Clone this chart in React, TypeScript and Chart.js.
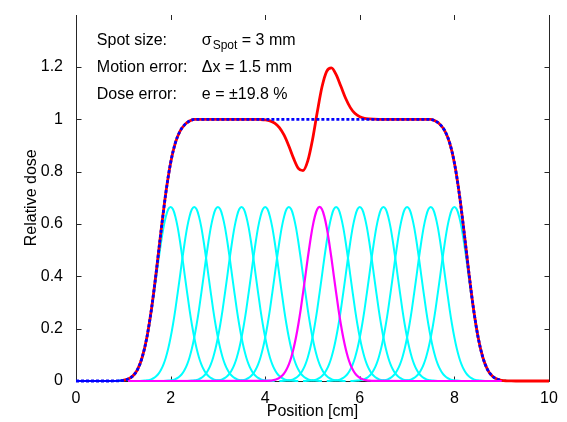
import React, { useEffect, useRef } from 'react';
import { Chart, registerables } from 'chart.js';

Chart.register(...registerables);

// Sample positions along the profile (cm)
const positionsCm = [
  0.0, 0.1, 0.2, 0.3, 0.4, 0.5, 0.6, 0.7, 0.8, 0.9,
  1.0, 1.1, 1.2, 1.3, 1.4, 1.5, 1.6, 1.7, 1.8, 1.9,
  2.0, 2.1, 2.2, 2.3, 2.4, 2.5, 2.6, 2.7, 2.8, 2.9,
  3.0, 3.1, 3.2, 3.3, 3.4, 3.5, 3.6, 3.7, 3.8, 3.9,
  4.0, 4.1, 4.2, 4.3, 4.4, 4.5, 4.6, 4.7, 4.8, 4.9,
  5.0, 5.1, 5.2, 5.3, 5.4, 5.5, 5.6, 5.7, 5.8, 5.9,
  6.0, 6.1, 6.2, 6.3, 6.4, 6.5, 6.6, 6.7, 6.8, 6.9,
  7.0, 7.1, 7.2, 7.3, 7.4, 7.5, 7.6, 7.7, 7.8, 7.9,
  8.0, 8.1, 8.2, 8.3, 8.4, 8.5, 8.6, 8.7, 8.8, 8.9,
  9.0, 9.1, 9.2, 9.3, 9.4, 9.5, 9.6, 9.7, 9.8, 9.9,
  10.0,
];

// Planned total dose (blue dotted)
const plannedDose = [
  0, 0, 0, 0, 0, 0, 0, 0, 0.0002, 0.0008,
  0.0026, 0.0074, 0.0191, 0.0439, 0.0908, 0.1684, 0.2808, 0.4224, 0.5764, 0.7199,
  0.8334, 0.9099, 0.9549, 0.9797, 0.9932, 0.9993, 0.9998, 1, 1, 1,
  1, 1, 1, 1, 1, 1, 1, 1, 1, 1,
  1, 1, 1, 1, 1, 1, 1, 1, 1, 1,
  1, 1, 1, 1, 1, 1, 1, 1, 1, 1,
  1, 1, 1, 1, 1, 1, 1, 1, 1, 1,
  1, 1, 1, 1, 0.9998, 0.9993, 0.9932, 0.9797, 0.9549, 0.9099,
  0.8334, 0.7199, 0.5764, 0.4224, 0.2808, 0.1684, 0.0908, 0.0439, 0.0191, 0.0074,
  0.0026, null, null, null, null, null, null, null, null, null,
  null,
];

// Delivered total dose with the motion error (red)
const deliveredDose = [
  null, null, null, null, null, null, null, null, null, null,
  0.0026, 0.0074, 0.0191, 0.0439, 0.0908, 0.1684, 0.2808, 0.4224, 0.5764, 0.7199,
  0.8334, 0.9099, 0.9549, 0.9797, 0.9932, 0.9993, 0.9998, 1, 1, 1,
  1, 1, 1, 1, 1, 1, 1, 1, 0.9998, 0.9993,
  0.9978, 0.9941, 0.9854, 0.9683, 0.9392, 0.8977, 0.8505, 0.8126, 0.8042, 0.8408,
  0.9219, 1.0267, 1.1234, 1.1835, 1.1965, 1.1708, 1.126, 1.0802, 1.0446, 1.0218,
  1.0094, 1.0036, 1.0013, 1.0004, 1, 1, 1, 1, 1, 1,
  1, 1, 1, 1, 0.9998, 0.9993, 0.9932, 0.9797, 0.9549, 0.9099,
  0.8334, 0.7199, 0.5764, 0.4224, 0.2808, 0.1684, 0.0908, 0.0439, 0.0191, 0.0074,
  0.0026, 0.0008, 0.0002, 0, 0, 0, 0, 0, 0, 0,
  0,
];

// Single spot dose profile, offset from its centre (cm)
const spotOffsetsCm = [
  -1.2, -1.15, -1.1, -1.05, -1.0, -0.95, -0.9, -0.85, -0.8, -0.75,
  -0.7, -0.65, -0.6, -0.55, -0.5, -0.45, -0.4, -0.35, -0.3, -0.25,
  -0.2, -0.15, -0.1, -0.05, 0,
  0.05, 0.1, 0.15, 0.2, 0.25, 0.3, 0.35, 0.4, 0.45, 0.5,
  0.55, 0.6, 0.65, 0.7, 0.75, 0.8, 0.85, 0.9, 0.95, 1.0,
  1.05, 1.1, 1.15, 1.2,
];
const spotProfileDose = [
  0.0002, 0.0004, 0.0008, 0.0015, 0.0026, 0.0044, 0.0074, 0.012, 0.019, 0.0292,
  0.0437, 0.0636, 0.09, 0.124, 0.166, 0.216, 0.273, 0.337, 0.403, 0.47,
  0.532, 0.587, 0.629, 0.656, 0.665,
  0.656, 0.629, 0.587, 0.532, 0.47, 0.403, 0.337, 0.273, 0.216, 0.166,
  0.124, 0.09, 0.0636, 0.0437, 0.0292, 0.019, 0.012, 0.0074, 0.0044, 0.0026,
  0.0015, 0.0008, 0.0004, 0.0002,
];

const plannedSpotCentersCm = [2, 2.5, 3, 3.5, 4, 4.5, 5.5, 6, 6.5, 7, 7.5, 8];
const movedSpotCenterCm = 5.15;
const movedSpotBaselineCm = [1.1, 9.0];
// Part of the planned curve that shows as a solid blue baseline (cm)
const plannedBaselineEndCm = 1.0;

const xTickValues = [0, 2, 4, 6, 8, 10];
const yTickValues = [0, 0.2, 0.4, 0.6, 0.8, 1, 1.2];

const annotationLabels = ['Spot size:', 'Motion error:', 'Dose error:'];
const annotationValues = [
  [{ t: 'σ' }, { t: 'Spot', sub: true }, { t: ' = 3 mm' }],
  [{ t: 'Δx = 1.5 mm' }],
  [{ t: 'e = ±19.8 %' }],
];

const FONT = '"Liberation Sans", Arial, Helvetica, sans-serif';

const toPoints = (xs: number[], ys: (number | null)[]) =>
  xs.map((x, i) => ({ x, y: ys[i] })).filter((p) => p.y !== null) as { x: number; y: number }[];

const spotPoints = (center: number) =>
  spotOffsetsCm.map((o, i) => ({ x: Math.round((center + o) * 1000) / 1000, y: spotProfileDose[i] }));

const matlabAxes = {
  id: 'matlabAxes',
  beforeDatasetsDraw(chart: any) {
    const { ctx, chartArea, scales } = chart;
    const { left, right, top, bottom } = chartArea;
    const x = scales.x;
    const y = scales.y;
    const L = Math.round(left) + 0.5;
    const R = Math.round(right) + 0.5;
    const B = Math.round(bottom) + 0.5;
    const T = Math.round(top);
    ctx.save();
    ctx.strokeStyle = '#262626';
    ctx.lineWidth = 1;
    ctx.beginPath();
    ctx.moveTo(L, T);
    ctx.lineTo(L, B);
    ctx.lineTo(R, B);
    ctx.lineTo(R, T);
    const tl = 5;
    for (const v of xTickValues) {
      const px = Math.round(x.getPixelForValue(v)) + 0.5;
      ctx.moveTo(px, B);
      ctx.lineTo(px, B - tl);
      ctx.moveTo(px, T);
      ctx.lineTo(px, T + tl);
    }
    for (const v of yTickValues) {
      const py = Math.round(y.getPixelForValue(v)) + 0.5;
      ctx.moveTo(L, py);
      ctx.lineTo(L + tl, py);
      ctx.moveTo(R, py);
      ctx.lineTo(R - tl, py);
    }
    ctx.stroke();
    ctx.restore();
  },
};

const annotationsPlugin = {
  id: 'doseAnnotations',
  afterDraw(chart: any) {
    const { ctx, scales } = chart;
    const opts = chart.options.plugins.doseAnnotations;
    const x = scales.x;
    const y = scales.y;
    ctx.save();
    ctx.fillStyle = '#000';
    ctx.textBaseline = 'alphabetic';
    ctx.textAlign = 'left';
    annotationLabels.forEach((label, i) => {
      const py = y.getPixelForValue(opts.rowsY[i]);
      ctx.font = `${opts.size}px ${FONT}`;
      ctx.fillText(label, x.getPixelForValue(opts.labelX), py);
      let px = x.getPixelForValue(opts.valueX);
      for (const part of annotationValues[i] as any[]) {
        if (part.sub) {
          ctx.font = `${opts.subSize}px ${FONT}`;
          ctx.fillText(part.t, px + 1, py + opts.subShift);
          px += ctx.measureText(part.t).width + 1;
        } else {
          ctx.font = `${opts.size}px ${FONT}`;
          ctx.fillText(part.t, px, py);
          px += ctx.measureText(part.t).width;
        }
      }
    });
    ctx.restore();
  },
};

export default function App() {
  const canvasRef = useRef<HTMLCanvasElement | null>(null);

  useEffect(() => {
    if (!canvasRef.current) return;
    const cyanSets = plannedSpotCentersCm.map((c) => ({
      label: `Spot ${c}`,
      data: spotPoints(c),
      borderColor: '#00ffff',
      borderWidth: 2,
      pointRadius: 0,
      cubicInterpolationMode: 'monotone' as const,
      clip: 4,
      order: 4,
    }));
    const movedData = [
      { x: movedSpotBaselineCm[0], y: 0 },
      ...spotPoints(movedSpotCenterCm),
      { x: movedSpotBaselineCm[1], y: 0 },
    ];
    const plannedPts = toPoints(positionsCm, plannedDose);
    const chart = new Chart(canvasRef.current, {
      type: 'line',
      data: {
        datasets: [
          ...cyanSets,
          {
            label: 'Moved spot',
            data: movedData,
            borderColor: '#ff00ff',
            borderWidth: 2.2,
            pointRadius: 0,
            cubicInterpolationMode: 'monotone',
            clip: 4,
            order: 0,
          },
          {
            label: 'Delivered',
            data: toPoints(positionsCm, deliveredDose),
            borderColor: '#ff0000',
            borderWidth: 2.8,
            pointRadius: 0,
            cubicInterpolationMode: 'monotone',
            clip: 4,
            order: 3,
          },
          {
            label: 'Planned',
            data: plannedPts,
            borderColor: '#0000ff',
            borderWidth: 2.8,
            borderDash: [3, 2],
            borderCapStyle: 'butt',
            pointRadius: 0,
            cubicInterpolationMode: 'monotone',
            clip: 4,
            order: 1,
          },
          {
            label: 'Planned baseline',
            data: plannedPts.filter((p) => p.x <= plannedBaselineEndCm),
            borderColor: '#0000ff',
            borderWidth: 2,
            pointRadius: 0,
            tension: 0,
            clip: 4,
            order: 1,
          },
        ] as any,
      },
      options: {
        animation: false,
        responsive: false,
        maintainAspectRatio: false,
        events: [],
        layout: { padding: { left: 0, right: 18, top: 8, bottom: 0 } },
        plugins: {
          legend: { display: false },
          tooltip: { enabled: false },
          doseAnnotations: {
            labelX: 0.44,
            valueX: 2.66,
            rowsY: [1.282, 1.18, 1.079],
            size: 16,
            subSize: 12,
            subShift: 4,
          },
        } as any,
        scales: {
          x: {
            type: 'linear',
            min: 0,
            max: 10,
            grid: { display: false },
            border: { display: false },
            ticks: {
              stepSize: 2,
              padding: 0,
              color: '#000',
              font: { family: FONT, size: 16 },
              maxRotation: 0,
            },
            title: {
              display: true,
              text: 'Position [cm]',
              color: '#000',
              font: { family: FONT, size: 16 },
              padding: { top: 0, bottom: 0.5 },
            },
            afterFit: (s: any) => {
              s.height = 41;
            },
          },
          y: {
            type: 'linear',
            min: 0,
            max: 1.4,
            grid: { display: false },
            border: { display: false },
            ticks: {
              stepSize: 0.2,
              padding: 5,
              color: '#000',
              font: { family: FONT, size: 16 },
              callback: (v: any) => (v > 1.3 ? '' : String(Math.round(v * 10) / 10)),
            },
            title: {
              display: true,
              text: 'Relative dose',
              color: '#000',
              font: { family: FONT, size: 16 },
              padding: { top: 22, bottom: 0 },
            },
            afterFit: (s: any) => {
              s.width = 76;
            },
          },
        },
      },
      plugins: [matlabAxes, annotationsPlugin],
    });
    return () => chart.destroy();
  }, []);

  return (
    <div style={{ position: 'absolute', left: 0, top: 0, width: 567, height: 422, background: '#fff' }}>
      <canvas ref={canvasRef} width={567} height={422} style={{ display: 'block' }} />
    </div>
  );
}
